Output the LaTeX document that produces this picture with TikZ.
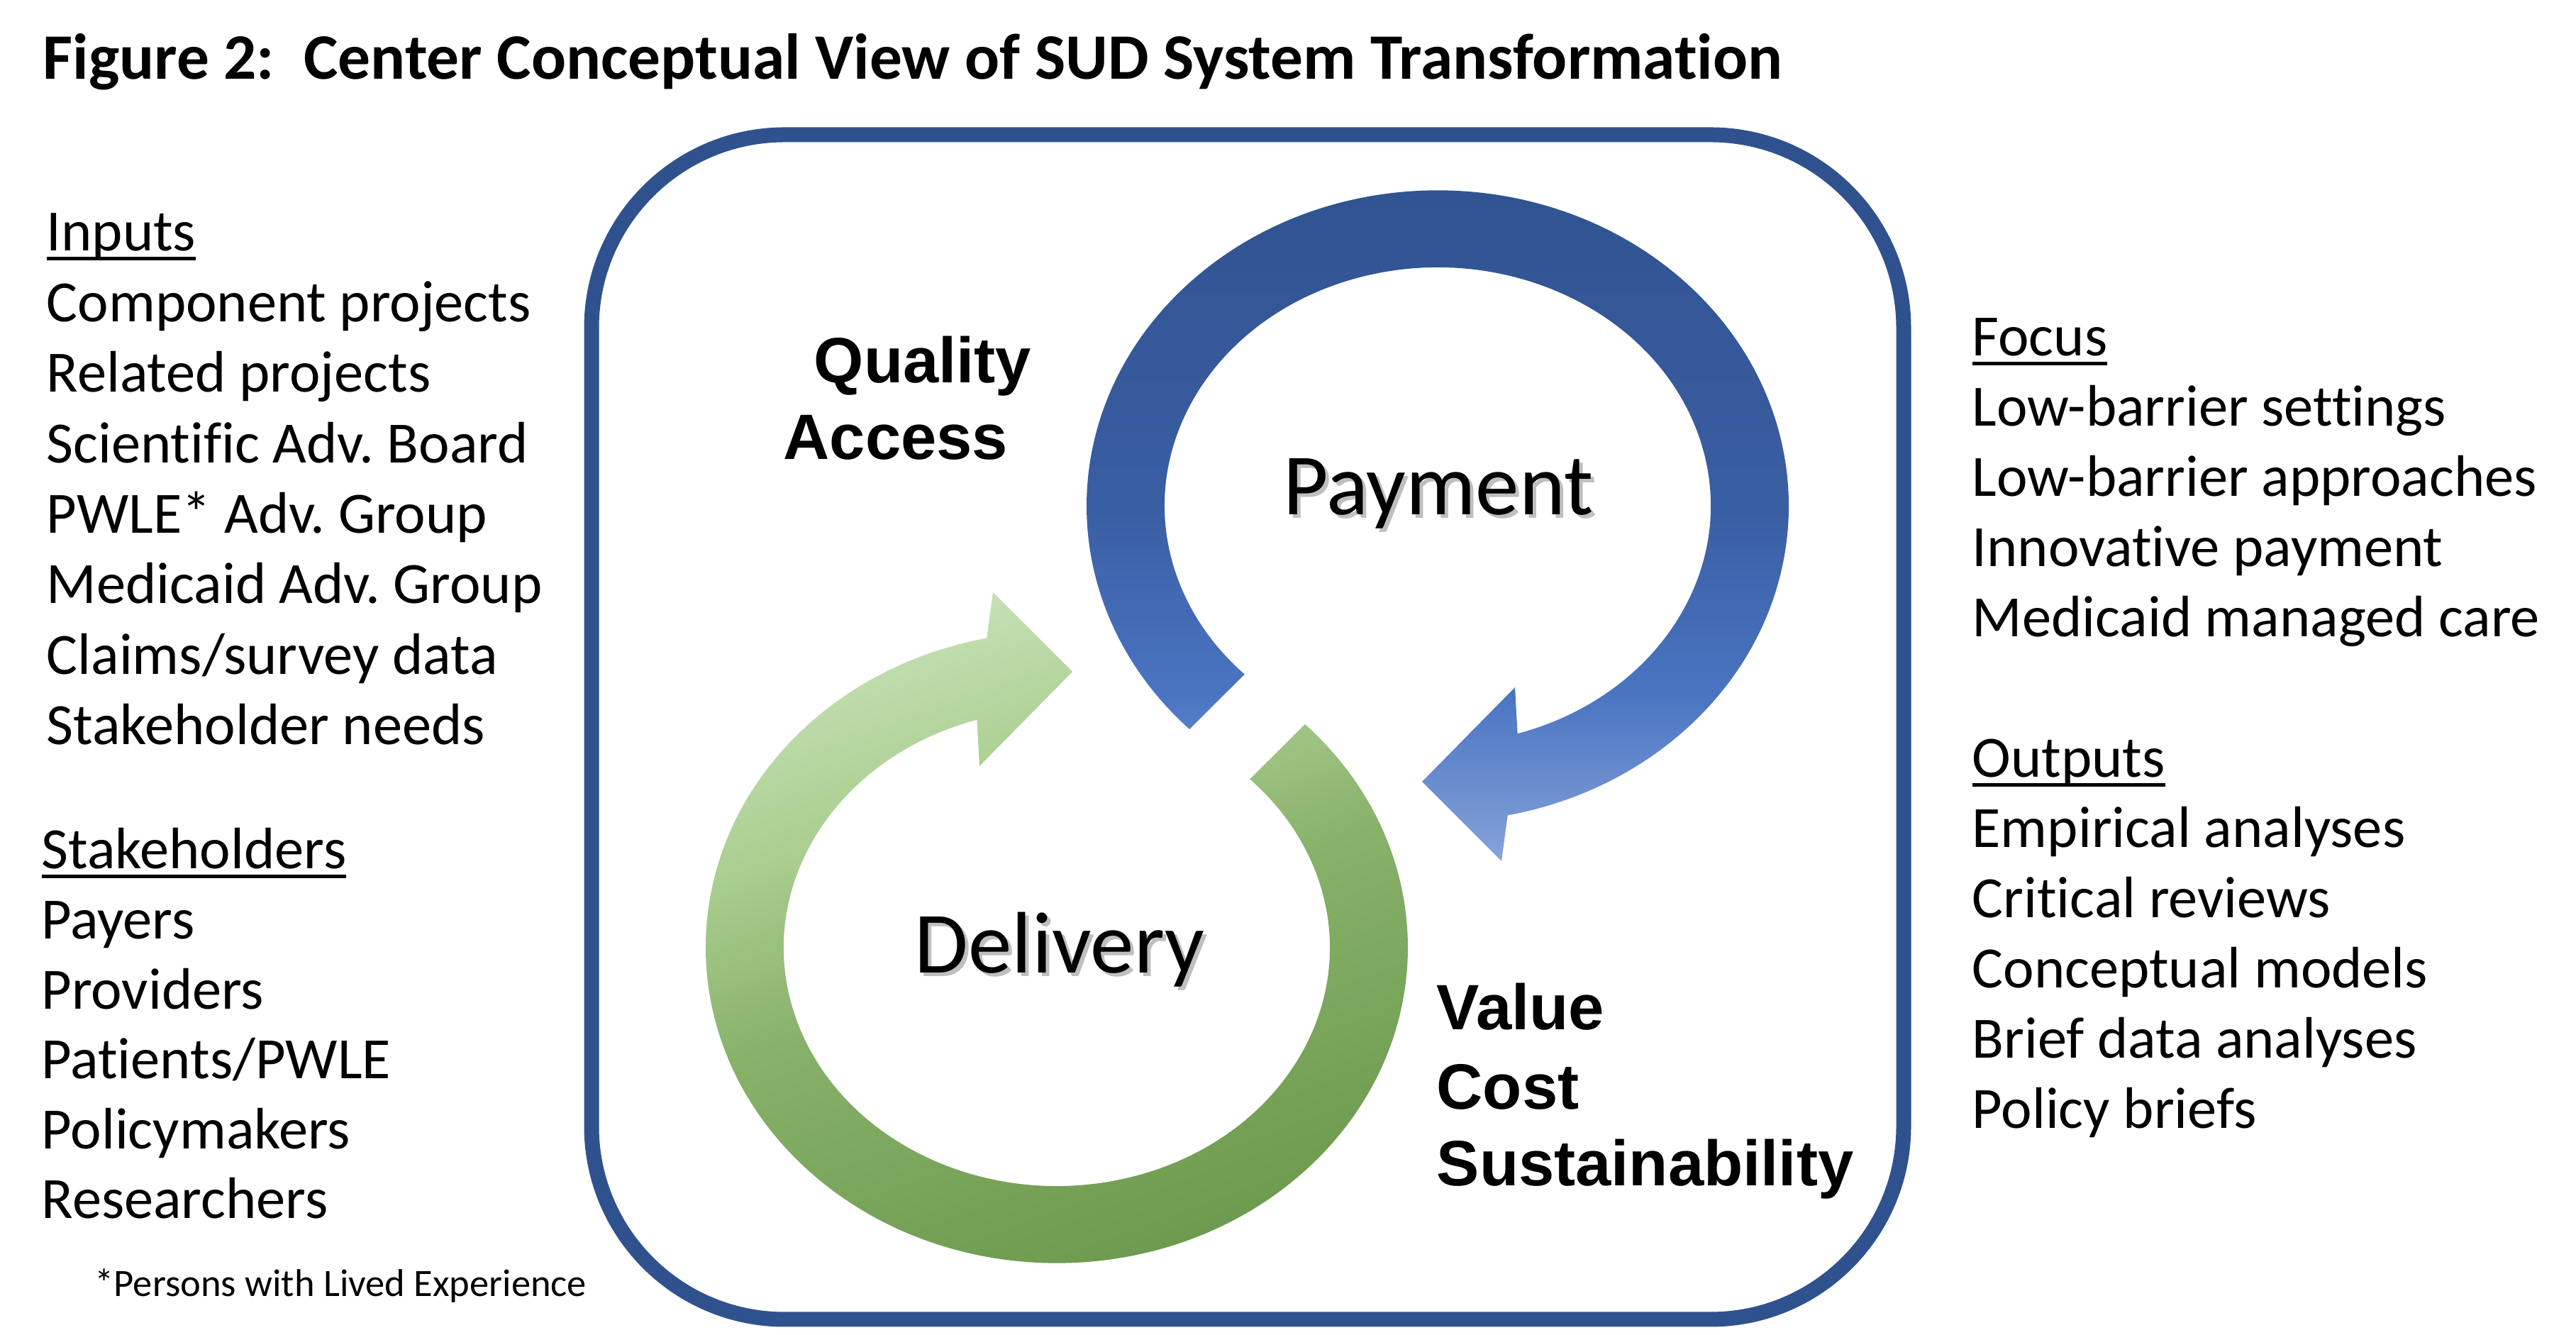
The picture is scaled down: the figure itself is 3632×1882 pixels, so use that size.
\documentclass[tikz,border=0pt]{standalone}
\usepackage{fontspec}
\setmainfont{Carlito}[Ligatures=NoCommon]
\newfontfamily\keyfont{Liberation Sans}
\usetikzlibrary{positioning}
\frenchspacing

\definecolor{boxblue}{RGB}{47,82,143}
\definecolor{payDark}{RGB}{47,82,143}
\definecolor{payUpper}{RGB}{58,94,163}
\definecolor{payMid}{RGB}{74,116,193}
\definecolor{payLight}{RGB}{134,163,218}
\definecolor{delLight}{RGB}{199,225,182}
\definecolor{delUpper}{RGB}{169,206,143}
\definecolor{delMid}{RGB}{136,177,106}
\definecolor{delDark}{RGB}{106,152,75}

\pgfdeclareverticalshading{paymentshade}{100bp}{color(0bp)=(payLight); color(25bp)=(payLight); color(37bp)=(payMid); color(50bp)=(payUpper); color(75bp)=(payDark); color(100bp)=(payDark)}
\pgfdeclareverticalshading{deliveryshade}{100bp}{color(0bp)=(delDark); color(25bp)=(delDark); color(50bp)=(delMid); color(62bp)=(delUpper); color(75bp)=(delLight); color(100bp)=(delLight)}

% underlined list heading
\newcommand{\ulhead}[1]{\setbox0\hbox{#1}\rlap{\vrule width\wd0 height-2.3pt depth3.7pt}\box0}

\begin{document}
\begin{tikzpicture}[x=0.01cm, y=0.01cm,
  listtext/.style={anchor=base west, inner sep=0pt, font=\fontsize{23.45pt}{28.3pt}\selectfont},
  keytext/.style={anchor=base west, inner sep=0pt, font=\keyfont\bfseries\fontsize{25.7pt}{31pt}\selectfont},
  cycletext/.style={anchor=base, inner sep=0pt, font=\fontsize{35pt}{42pt}\selectfont},
  shadowtext/.style={cycletext, text=black!50, opacity=0.5}]
  \useasboundingbox (0,0) rectangle (3632,1882);

  \node[anchor=base west, inner sep=0pt, font=\bfseries\fontsize{26pt}{31pt}\selectfont] (title) at (60,1770)
    {Figure 2:\ \ Center Conceptual View of SUD System Transformation};

  % frame round the cycle
  \draw[boxblue, line width=0.21cm, rounded corners=2.72cm] (834,22) rectangle (2684,1692);

  % payment arrow (blue), centre (2027,1169)
  \begin{scope}[shift={(2027,1169)}]
    \shade[shading=paymentshade] (-350,-315)
      arc[start angle=225, end angle=-78.5, x radius=495, y radius=445]
      -- (90,-501) -- (-22,-389) -- (109,-256) -- (112.6,-321.3)
      arc[start angle=-73, end angle=225, x radius=385, y radius=336] -- cycle;
  \end{scope}
  % delivery arrow (green), centre (1490,546)
  \begin{scope}[shift={(1490,546)}]
    \shade[shading=deliveryshade, shading angle=20] (350,315)
      arc[start angle=45, end angle=-258.5, x radius=495, y radius=445]
      -- (-90,501) -- (22,389) -- (-109,256) -- (-112.6,321.3)
      arc[start angle=-253, end angle=45, x radius=385, y radius=336] -- cycle;
  \end{scope}

  \node[shadowtext] (paymentshadow) at (2033,1151) {Payment};
  \node[cycletext] (payment) at (2028,1156) {Payment};
  \node[shadowtext] (deliveryshadow) at (1499,505) {Delivery};
  \node[cycletext] (delivery) at (1494,510) {Delivery};

  \node[keytext] (quality) at (1147,1342) {Quality};
  \node[keytext] (access) at (1104,1234) {Access};
  \node[keytext] (value) at (2025,430) {Value};
  \node[keytext] (cost) at (2025,318) {Cost};
  \node[keytext] (sustain) at (2025,210) {Sustainability};

  % left lists
  \node[listtext] (inputs) at (65,1528) {\ulhead{Inputs}};
  \foreach [count=\i] \lab in {Component projects,Related projects,Scientific Adv. Board,PWLE* Adv. Group,Medicaid Adv. Group,Claims/survey data,Stakeholder needs}
    \node[listtext] (in\i) at (65,1528-\i*99.4) {\lab};
  \node[listtext] (stake) at (58,657) {\ulhead{Stakeholders}};
  \foreach [count=\i] \lab in {Payers,Providers,Patients/PWLE,Policymakers,Researchers}
    \node[listtext] (st\i) at (58,657-\i*98.6) {\lab};
  \node[anchor=base west, inner sep=0pt, font=\fontsize{15.5pt}{18pt}\selectfont] (footnote) at (133,54)
    {*Persons with Lived Experience};

  % right lists
  \node[listtext] (focus) at (2780,1380) {\ulhead{Focus}};
  \foreach [count=\i] \lab in {Low-barrier settings,Low-barrier approaches,Innovative payment,Medicaid managed care}
    \node[listtext] (fo\i) at (2780,1380-\i*99) {\lab};
  \node[listtext] (outputs) at (2780,786) {\ulhead{Outputs}};
  \foreach [count=\i] \lab in {Empirical analyses,Critical reviews,Conceptual models,Brief data analyses,Policy briefs}
    \node[listtext] (out\i) at (2780,786-\i*99) {\lab};
\end{tikzpicture}
\end{document}
